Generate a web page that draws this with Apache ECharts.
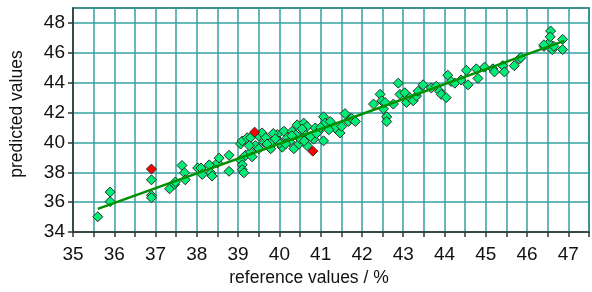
<!DOCTYPE html>
<html>
<head>
<meta charset="utf-8">
<script src="https://cdn.jsdelivr.net/npm/echarts@6/dist/echarts.min.js"></script>
<style>
  html, body { margin: 0; padding: 0; background: #fff; }
  #chart { width: 592px; height: 292px; }
</style>
</head>
<body>
<div id="chart"></div>
<script>
// reference value (x) / predicted value (y) pairs
const refValues = [
  35.6, 35.9, 35.9, 36.9, 36.9, 36.9, 37.34, 37.46, 37.48, 37.64, 37.7, 37.72, 38.02,
  38.1, 38.13, 38.3, 38.34, 38.37, 38.5, 38.54, 38.78, 38.78, 39.06, 39.1, 39.1, 39.14,
  39.18, 39.06, 39.1, 39.22, 39.3, 39.5, 39.58, 39.42, 39.5, 39.63, 39.3, 39.34, 39.27,
  39.67, 39.79, 39.79, 39.95, 39.99, 40.07, 40.11, 40.19, 40.31, 40.35, 40.43, 40.47,
  40.51, 40.59, 40.63, 40.67, 40.67, 40.83, 40.87, 40.95, 41.07, 41.07, 41.11, 41.23,
  41.35, 41.47, 41.51, 41.59, 41.67, 39.85, 40.0, 40.25, 40.4, 40.55, 40.75, 40.9,
  41.0, 39.7, 40.15, 40.6, 41.2, 39.9, 40.3,
  41.75, 41.84, 42.28, 42.44, 42.48, 42.52, 42.56, 42.6, 42.6, 42.76, 42.88, 42.92,
  43.04, 43.08, 43.16, 43.24, 43.32, 43.36, 43.48, 43.68, 43.8, 43.88, 43.92, 44.04,
  44.08, 44.16, 44.25, 44.4, 44.53, 44.57, 44.77, 44.81, 44.97, 45.17, 45.21, 45.41,
  45.45, 45.69, 45.81, 45.85, 46.41, 46.53, 46.61, 46.86, 46.57, 46.56, 46.41, 46.65, 46.86
]
const predValues = [
  35.03, 36.68, 36.04, 37.5, 36.46, 36.3, 36.9, 37.2, 37.35, 38.46, 37.97, 37.5, 38.29,
  38.29, 37.86, 38.5, 37.97, 37.75, 38.63, 38.95, 39.14, 38.07, 38.82, 38.5, 38.18, 37.97,
  39.14, 39.9, 40.1, 40.32, 40.32, 40.43, 40.64, 39.79, 39.58, 40.0, 39.36, 39.04, 39.79,
  40.32, 40.0, 39.58, 40.54, 40.1, 39.68, 40.75, 40.32, 40.75, 39.58, 41.18, 39.9,
  40.22, 41.29, 40.54, 39.79, 41.07, 40.22, 40.97, 40.75, 41.72, 40.11, 41.29, 41.4,
  40.97, 40.64, 41.07, 41.93, 41.4, 40.6, 39.95, 40.05, 40.5, 40.9, 40.4, 40.6,
  41.0, 39.9, 39.9, 40.1, 40.85, 40.25, 40.45,
  41.61, 41.4, 42.57, 43.22, 42.79, 42.25, 42.68, 41.72, 41.4, 42.57, 43.97, 43.22,
  43.33, 42.68, 43.0, 42.79, 43.11, 43.43, 43.86, 43.65, 43.76, 43.43, 43.22, 43.0,
  44.5, 44.08, 43.97, 44.18, 44.83, 43.86, 44.93, 44.29, 45.04, 44.93, 44.72, 45.14,
  44.72, 45.14, 45.58, 45.68, 46.43, 46.65, 46.22, 46.22, 47.46, 47.07, 46.54, 46.43, 46.9
]
// outliers drawn in red
const outlierRef = [36.9, 39.4, 40.81]
const outlierPred = [38.22, 40.69, 39.42]
// regression line
const fitX = [35.6, 41.0, 46.9]
const fitY = [35.55, 40.9, 46.8]

const xMin = 35, xMax = 47.5, xStep = 0.5
const yMin = 34, yMax = 49, yStep = 2

const gridColor = '#35a0a0'
const labelFont = 'Liberation Sans, Arial, sans-serif'

const zip = (a, b) => a.map((v, i) => [v, b[i]])

const chart = echarts.init(document.getElementById('chart'), null, { renderer: 'canvas' })

chart.setOption({
  backgroundColor: '#fff',
  animation: false,
  grid: {
    left: 73, top: 8, right: 1, bottom: 52,
    show: true, borderColor: '#333', borderWidth: 1.5
  },
  xAxis: {
    type: 'value',
    min: xMin, max: xMax, interval: xStep,
    name: 'reference values / %',
    nameLocation: 'middle',
    nameGap: 35,
    nameTextStyle: { fontFamily: labelFont, fontSize: 17.5, color: '#111', padding: [0, 44, 0, 0] },
    axisLine: { lineStyle: { color: '#333', width: 1.5 } },
    axisTick: { show: true, length: 5, lineStyle: { color: '#333', width: 1.5 } },
    axisLabel: {
      fontFamily: labelFont, fontSize: 19, color: '#111', margin: 13,
      formatter: v => (Math.abs(v - Math.round(v)) < 1e-6 ? String(Math.round(v)) : '')
    },
    splitLine: { show: true, lineStyle: { color: gridColor, width: 1.5 } }
  },
  yAxis: {
    type: 'value',
    min: yMin, max: yMax, interval: yStep,
    name: 'predicted values',
    nameLocation: 'middle',
    nameGap: 47,
    nameTextStyle: { fontFamily: labelFont, fontSize: 17.5, color: '#111', padding: [0, 0, 0, 12] },
    axisLine: { show: true, lineStyle: { color: '#333', width: 1.5 } },
    axisTick: { show: true, length: 5, lineStyle: { color: '#333', width: 1.5 } },
    axisLabel: {
      fontFamily: labelFont, fontSize: 19, color: '#111', margin: 8,
      showMaxLabel: false,
      formatter: v => ((v - yMin) % yStep === 0 && v < yMax ? String(v) : '')
    },
    splitLine: { show: true, lineStyle: { color: gridColor, width: 1.5 } }
  },
  series: [
    {
      type: 'scatter',
      data: zip(refValues, predValues),
      symbol: 'diamond',
      symbolSize: [10, 10],
      itemStyle: { color: '#00ee78', borderColor: '#2a2a2a', borderWidth: 1, opacity: 1 },
      z: 2
    },
    {
      type: 'scatter',
      data: zip(outlierRef, outlierPred),
      symbol: 'diamond',
      symbolSize: [10, 10],
      itemStyle: { color: '#ff0000', borderColor: '#2a2a2a', borderWidth: 1, opacity: 1 },
      z: 3
    },
    {
      type: 'line',
      data: zip(fitX, fitY),
      showSymbol: false,
      lineStyle: { color: '#009000', width: 2.5 },
      z: 4
    }
  ]
})
</script>
</body>
</html>
